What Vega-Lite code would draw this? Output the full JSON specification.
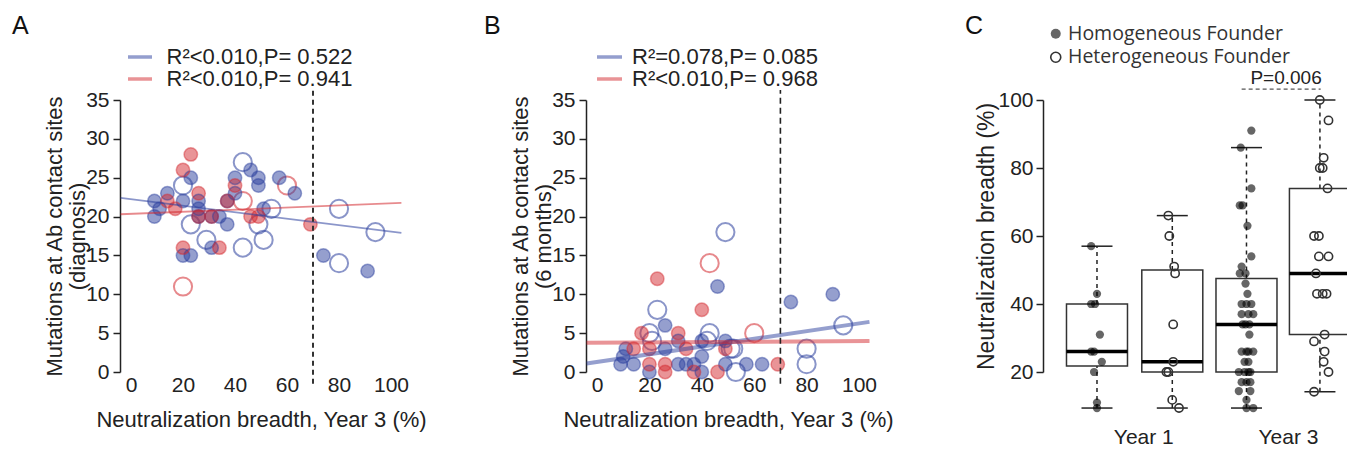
{
  "$schema": "https://vega.github.io/schema/vega-lite/v6.json",
  "background": "white",
  "padding": {"left": 12, "top": 14, "right": 0, "bottom": 0},
  "bounds": "flush",
  "spacing": 206,
  "config": {
    "font": "Liberation Sans",
    "view": {"stroke": null},
    "axis": {"grid": false, "labelOverlap": false, "labelBound": false, "labelColor": "#222", "titleColor": "#222", "domainColor": "#222", "tickColor": "#222", "titleFontWeight": "normal", "labelFontSize": 21, "titleFontSize": 22, "tickSize": 7, "tickWidth": 1.5, "domainWidth": 1.5, "labelFont": "Liberation Sans", "titleFont": "Liberation Sans"},
    "axisY": {"labelOverlap": false},
    "axisX": {"labelFlush": false},
    "axisQuantitative": {"labelOverlap": false},
    "title": {"fontWeight": "normal", "fontSize": 25, "color": "#111", "font": "Liberation Sans"}
  },
  "resolve": {
    "scale": {"color": "independent", "stroke": "independent", "fill": "independent", "x": "independent", "y": "independent"},
    "legend": {"color": "independent", "stroke": "independent", "fill": "independent"}
  },
  "datasets": {
    "ptsA": [
      {"grp": "blue", "kind": "filled", "x": 9, "y": 22}, {"grp": "blue", "kind": "filled", "x": 11, "y": 21}, {"grp": "blue", "kind": "filled", "x": 9, "y": 20},
      {"grp": "blue", "kind": "filled", "x": 14, "y": 23}, {"grp": "blue", "kind": "filled", "x": 20, "y": 22}, {"grp": "blue", "kind": "filled", "x": 23, "y": 25},
      {"grp": "blue", "kind": "filled", "x": 26, "y": 22}, {"grp": "blue", "kind": "filled", "x": 26, "y": 21}, {"grp": "blue", "kind": "filled", "x": 26, "y": 20},
      {"grp": "blue", "kind": "filled", "x": 20, "y": 15}, {"grp": "blue", "kind": "filled", "x": 23, "y": 15}, {"grp": "blue", "kind": "filled", "x": 31, "y": 16},
      {"grp": "blue", "kind": "filled", "x": 31, "y": 20}, {"grp": "blue", "kind": "filled", "x": 34, "y": 20}, {"grp": "blue", "kind": "filled", "x": 37, "y": 19},
      {"grp": "blue", "kind": "filled", "x": 37, "y": 22}, {"grp": "blue", "kind": "filled", "x": 40, "y": 25}, {"grp": "blue", "kind": "filled", "x": 40, "y": 23},
      {"grp": "blue", "kind": "filled", "x": 46, "y": 26}, {"grp": "blue", "kind": "filled", "x": 49, "y": 25}, {"grp": "blue", "kind": "filled", "x": 49, "y": 24},
      {"grp": "blue", "kind": "filled", "x": 51, "y": 21}, {"grp": "blue", "kind": "filled", "x": 57, "y": 25}, {"grp": "blue", "kind": "filled", "x": 63, "y": 23},
      {"grp": "blue", "kind": "filled", "x": 74, "y": 15}, {"grp": "blue", "kind": "filled", "x": 91, "y": 13},
      {"grp": "blue", "kind": "open", "x": 20, "y": 24}, {"grp": "blue", "kind": "open", "x": 43, "y": 27}, {"grp": "blue", "kind": "open", "x": 23, "y": 19},
      {"grp": "blue", "kind": "open", "x": 29, "y": 17}, {"grp": "blue", "kind": "open", "x": 43, "y": 16}, {"grp": "blue", "kind": "open", "x": 49, "y": 19},
      {"grp": "blue", "kind": "open", "x": 51, "y": 17}, {"grp": "blue", "kind": "open", "x": 54, "y": 21}, {"grp": "blue", "kind": "open", "x": 80, "y": 21},
      {"grp": "blue", "kind": "open", "x": 80, "y": 14}, {"grp": "blue", "kind": "open", "x": 94, "y": 18},
      {"grp": "red", "kind": "filled", "x": 23, "y": 28}, {"grp": "red", "kind": "filled", "x": 20, "y": 26}, {"grp": "red", "kind": "filled", "x": 14, "y": 22},
      {"grp": "red", "kind": "filled", "x": 17, "y": 21}, {"grp": "red", "kind": "filled", "x": 26, "y": 23}, {"grp": "red", "kind": "filled", "x": 26, "y": 20},
      {"grp": "red", "kind": "filled", "x": 31, "y": 20}, {"grp": "red", "kind": "filled", "x": 37, "y": 22}, {"grp": "red", "kind": "filled", "x": 40, "y": 24},
      {"grp": "red", "kind": "filled", "x": 46, "y": 20}, {"grp": "red", "kind": "filled", "x": 49, "y": 20}, {"grp": "red", "kind": "filled", "x": 20, "y": 16},
      {"grp": "red", "kind": "filled", "x": 34, "y": 16}, {"grp": "red", "kind": "filled", "x": 69, "y": 19},
      {"grp": "red", "kind": "open", "x": 20, "y": 11}, {"grp": "red", "kind": "open", "x": 43, "y": 22}, {"grp": "red", "kind": "open", "x": 60, "y": 24}
    ],
    "fitA": [
      {"grp": "blue", "x": -4, "y": 22.4}, {"grp": "blue", "x": 104, "y": 17.9},
      {"grp": "red", "x": -4, "y": 20.3}, {"grp": "red", "x": 104, "y": 21.75}
    ],
    "ptsB": [
      {"grp": "blue", "kind": "filled", "x": 46, "y": 11}, {"grp": "blue", "kind": "filled", "x": 74, "y": 9}, {"grp": "blue", "kind": "filled", "x": 90, "y": 10},
      {"grp": "blue", "kind": "filled", "x": 26, "y": 6}, {"grp": "blue", "kind": "filled", "x": 10, "y": 2}, {"grp": "blue", "kind": "filled", "x": 11, "y": 3},
      {"grp": "blue", "kind": "filled", "x": 9, "y": 1}, {"grp": "blue", "kind": "filled", "x": 14, "y": 1}, {"grp": "blue", "kind": "filled", "x": 20, "y": 0},
      {"grp": "blue", "kind": "filled", "x": 26, "y": 3}, {"grp": "blue", "kind": "filled", "x": 31, "y": 4}, {"grp": "blue", "kind": "filled", "x": 31, "y": 1},
      {"grp": "blue", "kind": "filled", "x": 34, "y": 1}, {"grp": "blue", "kind": "filled", "x": 37, "y": 1}, {"grp": "blue", "kind": "filled", "x": 40, "y": 0},
      {"grp": "blue", "kind": "filled", "x": 40, "y": 2}, {"grp": "blue", "kind": "filled", "x": 40, "y": 4}, {"grp": "blue", "kind": "filled", "x": 49, "y": 4},
      {"grp": "blue", "kind": "filled", "x": 49, "y": 1}, {"grp": "blue", "kind": "filled", "x": 57, "y": 1}, {"grp": "blue", "kind": "filled", "x": 63, "y": 1},
      {"grp": "blue", "kind": "open", "x": 49, "y": 18}, {"grp": "blue", "kind": "open", "x": 23, "y": 8}, {"grp": "blue", "kind": "open", "x": 20, "y": 5},
      {"grp": "blue", "kind": "open", "x": 21, "y": 4}, {"grp": "blue", "kind": "open", "x": 43, "y": 5}, {"grp": "blue", "kind": "open", "x": 42, "y": 4},
      {"grp": "blue", "kind": "open", "x": 51, "y": 3}, {"grp": "blue", "kind": "open", "x": 52, "y": 3}, {"grp": "blue", "kind": "open", "x": 53, "y": 0},
      {"grp": "blue", "kind": "open", "x": 80, "y": 3}, {"grp": "blue", "kind": "open", "x": 80, "y": 1}, {"grp": "blue", "kind": "open", "x": 94, "y": 6},
      {"grp": "red", "kind": "filled", "x": 23, "y": 12}, {"grp": "red", "kind": "filled", "x": 40, "y": 8}, {"grp": "red", "kind": "filled", "x": 17, "y": 5},
      {"grp": "red", "kind": "filled", "x": 31, "y": 5}, {"grp": "red", "kind": "filled", "x": 14, "y": 3}, {"grp": "red", "kind": "filled", "x": 20, "y": 3},
      {"grp": "red", "kind": "filled", "x": 34, "y": 3}, {"grp": "red", "kind": "filled", "x": 49, "y": 3}, {"grp": "red", "kind": "filled", "x": 20, "y": 1},
      {"grp": "red", "kind": "filled", "x": 26, "y": 1}, {"grp": "red", "kind": "filled", "x": 26, "y": 0}, {"grp": "red", "kind": "filled", "x": 37, "y": 0},
      {"grp": "red", "kind": "filled", "x": 46, "y": 0}, {"grp": "red", "kind": "filled", "x": 69, "y": 1},
      {"grp": "red", "kind": "open", "x": 43, "y": 14}, {"grp": "red", "kind": "open", "x": 60, "y": 5}
    ],
    "fitB": [
      {"grp": "blue", "x": -4, "y": 1.1}, {"grp": "blue", "x": 104, "y": 6.45},
      {"grp": "red", "x": -4, "y": 3.75}, {"grp": "red", "x": 104, "y": 4.0}
    ],
    "cut": [{"x": 70, "y": -1.5, "y2": 36.3}],
    "boxes": [
      {"g": 1, "xpos": 1.0, "min": 9.4, "q1": 21.8, "med": 26, "q3": 40, "max": 57},
      {"g": 2, "xpos": 2.01, "min": 9.4, "q1": 20, "med": 23, "q3": 50, "max": 66},
      {"g": 3, "xpos": 3.005, "min": 9.4, "q1": 20, "med": 34, "q3": 47.5, "max": 86},
      {"g": 4, "xpos": 3.99, "min": 14.2, "q1": 31, "med": 49, "q3": 74, "max": 100}
    ],
    "ptsC": [
      {"founder": "Homogeneous Founder", "xpos": 0.922, "val": 57}, {"founder": "Homogeneous Founder", "xpos": 1.0, "val": 43},
      {"founder": "Homogeneous Founder", "xpos": 0.922, "val": 40}, {"founder": "Homogeneous Founder", "xpos": 0.974, "val": 40},
      {"founder": "Homogeneous Founder", "xpos": 1.039, "val": 31}, {"founder": "Homogeneous Founder", "xpos": 0.922, "val": 26},
      {"founder": "Homogeneous Founder", "xpos": 0.961, "val": 26}, {"founder": "Homogeneous Founder", "xpos": 1.065, "val": 23},
      {"founder": "Homogeneous Founder", "xpos": 0.961, "val": 20}, {"founder": "Homogeneous Founder", "xpos": 1.0, "val": 11},
      {"founder": "Homogeneous Founder", "xpos": 1.0, "val": 9.4},
      {"founder": "Heterogeneous Founder", "xpos": 1.957, "val": 66}, {"founder": "Heterogeneous Founder", "xpos": 1.97, "val": 60},
      {"founder": "Heterogeneous Founder", "xpos": 2.035, "val": 51}, {"founder": "Heterogeneous Founder", "xpos": 2.048, "val": 49},
      {"founder": "Heterogeneous Founder", "xpos": 2.022, "val": 34}, {"founder": "Heterogeneous Founder", "xpos": 2.022, "val": 23},
      {"founder": "Heterogeneous Founder", "xpos": 1.931, "val": 20}, {"founder": "Heterogeneous Founder", "xpos": 1.957, "val": 20},
      {"founder": "Heterogeneous Founder", "xpos": 2.009, "val": 11.8}, {"founder": "Heterogeneous Founder", "xpos": 2.1, "val": 9.4},
      {"founder": "Homogeneous Founder", "xpos": 3.07, "val": 91}, {"founder": "Homogeneous Founder", "xpos": 2.928, "val": 86},
      {"founder": "Homogeneous Founder", "xpos": 3.07, "val": 74}, {"founder": "Homogeneous Founder", "xpos": 2.915, "val": 69},
      {"founder": "Homogeneous Founder", "xpos": 2.953, "val": 69}, {"founder": "Homogeneous Founder", "xpos": 3.018, "val": 63},
      {"founder": "Homogeneous Founder", "xpos": 3.07, "val": 54}, {"founder": "Homogeneous Founder", "xpos": 2.94, "val": 51},
      {"founder": "Homogeneous Founder", "xpos": 2.915, "val": 49}, {"founder": "Homogeneous Founder", "xpos": 2.992, "val": 49},
      {"founder": "Homogeneous Founder", "xpos": 2.992, "val": 46}, {"founder": "Homogeneous Founder", "xpos": 3.018, "val": 43},
      {"founder": "Homogeneous Founder", "xpos": 2.94, "val": 40}, {"founder": "Homogeneous Founder", "xpos": 3.07, "val": 40},
      {"founder": "Homogeneous Founder", "xpos": 3.005, "val": 40}, {"founder": "Homogeneous Founder", "xpos": 2.94, "val": 37},
      {"founder": "Homogeneous Founder", "xpos": 3.031, "val": 37}, {"founder": "Homogeneous Founder", "xpos": 3.096, "val": 37},
      {"founder": "Homogeneous Founder", "xpos": 2.953, "val": 34}, {"founder": "Homogeneous Founder", "xpos": 3.044, "val": 34},
      {"founder": "Homogeneous Founder", "xpos": 2.992, "val": 34}, {"founder": "Homogeneous Founder", "xpos": 3.044, "val": 31},
      {"founder": "Homogeneous Founder", "xpos": 2.94, "val": 26}, {"founder": "Homogeneous Founder", "xpos": 3.005, "val": 26},
      {"founder": "Homogeneous Founder", "xpos": 3.096, "val": 26}, {"founder": "Homogeneous Founder", "xpos": 3.031, "val": 26},
      {"founder": "Homogeneous Founder", "xpos": 2.979, "val": 23}, {"founder": "Homogeneous Founder", "xpos": 3.031, "val": 23},
      {"founder": "Homogeneous Founder", "xpos": 2.902, "val": 20}, {"founder": "Homogeneous Founder", "xpos": 3.057, "val": 20},
      {"founder": "Homogeneous Founder", "xpos": 2.979, "val": 20}, {"founder": "Homogeneous Founder", "xpos": 3.031, "val": 20},
      {"founder": "Homogeneous Founder", "xpos": 2.94, "val": 17}, {"founder": "Homogeneous Founder", "xpos": 3.057, "val": 17},
      {"founder": "Homogeneous Founder", "xpos": 3.005, "val": 17}, {"founder": "Homogeneous Founder", "xpos": 2.902, "val": 14.4},
      {"founder": "Homogeneous Founder", "xpos": 3.057, "val": 14.4}, {"founder": "Homogeneous Founder", "xpos": 3.005, "val": 11.8},
      {"founder": "Homogeneous Founder", "xpos": 3.005, "val": 9.4}, {"founder": "Homogeneous Founder", "xpos": 3.096, "val": 9.4},
      {"founder": "Heterogeneous Founder", "xpos": 3.988, "val": 100}, {"founder": "Heterogeneous Founder", "xpos": 4.105, "val": 94},
      {"founder": "Heterogeneous Founder", "xpos": 4.04, "val": 83}, {"founder": "Heterogeneous Founder", "xpos": 3.988, "val": 80},
      {"founder": "Heterogeneous Founder", "xpos": 4.027, "val": 80}, {"founder": "Heterogeneous Founder", "xpos": 4.092, "val": 74},
      {"founder": "Heterogeneous Founder", "xpos": 3.911, "val": 60}, {"founder": "Heterogeneous Founder", "xpos": 3.976, "val": 60},
      {"founder": "Heterogeneous Founder", "xpos": 3.976, "val": 54}, {"founder": "Heterogeneous Founder", "xpos": 4.105, "val": 54},
      {"founder": "Heterogeneous Founder", "xpos": 3.937, "val": 49}, {"founder": "Heterogeneous Founder", "xpos": 3.95, "val": 43},
      {"founder": "Heterogeneous Founder", "xpos": 4.027, "val": 43}, {"founder": "Heterogeneous Founder", "xpos": 4.079, "val": 43},
      {"founder": "Heterogeneous Founder", "xpos": 4.053, "val": 31}, {"founder": "Heterogeneous Founder", "xpos": 3.911, "val": 29},
      {"founder": "Heterogeneous Founder", "xpos": 4.053, "val": 26}, {"founder": "Heterogeneous Founder", "xpos": 4.04, "val": 23},
      {"founder": "Heterogeneous Founder", "xpos": 4.105, "val": 20}, {"founder": "Heterogeneous Founder", "xpos": 3.911, "val": 14.2}
    ],
    "pval": [{"x1": 2.94, "x2": 4.0, "y": 103.2, "xt": 3.536, "yt": 106.6, "label": "P=0.006"}]
  },
  "hconcat": [
    {
      "width": 260, "height": 272,
      "title": {"text": "A", "anchor": "start", "frame": "group", "dx": -119, "offset": -13, "baseline": "alphabetic"},
      "layer": [
        {
          "data": {"name": "ptsA"},
          "transform": [{"filter": "datum.kind == 'open'"}],
          "mark": {"type": "point", "shape": "circle", "filled": false, "size": 330, "strokeWidth": 2, "opacity": 0.55},
          "encoding": {
            "x": {"field": "x", "type": "quantitative", "scale": {"domain": [0, 100], "nice": false, "zero": false},
                  "axis": {"values": [0, 20, 40, 60, 80, 100], "domain": false, "ticks": false, "tickSize": 0, "labelPadding": 2.5, "labelOverlap": false, "labelFlush": false, "title": "Neutralization breadth, Year 3 (%)", "titlePadding": 13.5}},
            "y": {"field": "y", "type": "quantitative", "scale": {"domain": [0, 35], "nice": false, "zero": false},
                  "axis": {"values": [0, 5, 10, 15, 20, 25, 30, 35], "tickCount": 8, "offset": 11, "labelPadding": 4, "labelOverlap": false, "title": ["Mutations at Ab contact sites", "(diagnosis)"], "titlePadding": -4, "titleLineHeight": 23}},
            "color": {"field": "grp", "type": "nominal", "scale": {"domain": ["blue", "red"], "range": ["#2b3f9e", "#d42a30"]},
                      "legend": {"orient": "none", "legendX": -2, "legendY": -54, "title": null, "symbolType": "M-2,0H2", "symbolSize": 144, "symbolStrokeWidth": 3.5, "symbolOpacity": 0.5,
                                 "labelFontSize": 22, "labelColor": "#222", "labelOffset": 15.5, "rowPadding": -1, "padding": 0, "labelLimit": 400,
                                 "labelExpr": "datum.label == 'blue' ? 'R²<0.010,P= 0.522' : 'R²<0.010,P= 0.941'"}}
          }
        },
        {
          "data": {"name": "ptsA"},
          "transform": [{"filter": "datum.kind == 'filled'"}],
          "mark": {"type": "circle", "size": 180, "opacity": 0.5},
          "encoding": {
            "x": {"field": "x", "type": "quantitative"},
            "y": {"field": "y", "type": "quantitative"},
            "color": {"field": "grp", "type": "nominal"}
          }
        },
        {
          "data": {"name": "ptsA"},
          "transform": [{"filter": "datum.kind == 'filled'"}],
          "mark": {"type": "point", "shape": "circle", "filled": false, "size": 180, "strokeWidth": 1.5, "opacity": 0.45},
          "encoding": {
            "x": {"field": "x", "type": "quantitative"},
            "y": {"field": "y", "type": "quantitative"},
            "color": {"field": "grp", "type": "nominal"}
          }
        },
        {
          "data": {"name": "fitA"},
          "mark": {"type": "line", "strokeWidth": 1.8, "opacity": 0.55},
          "encoding": {
            "x": {"field": "x", "type": "quantitative"},
            "y": {"field": "y", "type": "quantitative"},
            "color": {"field": "grp", "type": "nominal"}
          }
        },
        {
          "data": {"name": "cut"},
          "mark": {"type": "rule", "strokeDash": [5, 4], "strokeWidth": 2, "color": "#333"},
          "encoding": {
            "x": {"field": "x", "type": "quantitative"},
            "y": {"field": "y", "type": "quantitative"},
            "y2": {"field": "y2"}
          }
        }
      ]
    },
    {
      "width": 262, "height": 272,
      "title": {"text": "B", "anchor": "start", "frame": "group", "dx": -113, "offset": -13, "baseline": "alphabetic"},
      "layer": [
        {
          "data": {"name": "ptsB"},
          "transform": [{"filter": "datum.kind == 'open'"}],
          "mark": {"type": "point", "shape": "circle", "filled": false, "size": 330, "strokeWidth": 2, "opacity": 0.55},
          "encoding": {
            "x": {"field": "x", "type": "quantitative", "scale": {"domain": [0, 100], "nice": false, "zero": false},
                  "axis": {"values": [0, 20, 40, 60, 80, 100], "domain": false, "ticks": false, "tickSize": 0, "labelPadding": 2.5, "labelOverlap": false, "labelFlush": false, "title": "Neutralization breadth, Year 3 (%)", "titlePadding": 13.5}},
            "y": {"field": "y", "type": "quantitative", "scale": {"domain": [0, 35], "nice": false, "zero": false},
                  "axis": {"values": [0, 5, 10, 15, 20, 25, 30, 35], "tickCount": 8, "offset": 11, "labelPadding": 4, "labelOverlap": false, "title": ["Mutations at Ab contact sites", "(6 months)"], "titlePadding": -4, "titleLineHeight": 23}},
            "color": {"field": "grp", "type": "nominal", "scale": {"domain": ["blue", "red"], "range": ["#2b3f9e", "#d42a30"]},
                      "legend": {"orient": "none", "legendX": 1.5, "legendY": -54, "title": null, "symbolType": "M-2,0H2", "symbolSize": 156, "symbolStrokeWidth": 3.5, "symbolOpacity": 0.5,
                                 "labelFontSize": 22, "labelColor": "#222", "labelOffset": 11.5, "rowPadding": -1, "padding": 0, "labelLimit": 400,
                                 "labelExpr": "datum.label == 'blue' ? 'R²=0.078,P= 0.085' : 'R²<0.010,P= 0.968'"}}
          }
        },
        {
          "data": {"name": "ptsB"},
          "transform": [{"filter": "datum.kind == 'filled'"}],
          "mark": {"type": "circle", "size": 180, "opacity": 0.5},
          "encoding": {
            "x": {"field": "x", "type": "quantitative"},
            "y": {"field": "y", "type": "quantitative"},
            "color": {"field": "grp", "type": "nominal"}
          }
        },
        {
          "data": {"name": "ptsB"},
          "transform": [{"filter": "datum.kind == 'filled'"}],
          "mark": {"type": "point", "shape": "circle", "filled": false, "size": 180, "strokeWidth": 1.5, "opacity": 0.45},
          "encoding": {
            "x": {"field": "x", "type": "quantitative"},
            "y": {"field": "y", "type": "quantitative"},
            "color": {"field": "grp", "type": "nominal"}
          }
        },
        {
          "data": {"name": "fitB"},
          "mark": {"type": "line", "strokeWidth": 4, "opacity": 0.5},
          "encoding": {
            "x": {"field": "x", "type": "quantitative"},
            "y": {"field": "y", "type": "quantitative"},
            "color": {"field": "grp", "type": "nominal"}
          }
        },
        {
          "data": {"name": "cut"},
          "mark": {"type": "rule", "strokeDash": [6, 4], "strokeWidth": 1.6, "color": "#222"},
          "encoding": {
            "x": {"field": "x", "type": "quantitative"},
            "y": {"field": "y", "type": "quantitative"},
            "y2": {"field": "y2"}
          }
        }
      ]
    },
    {
      "width": 282, "height": 272,
      "title": {"text": "C", "anchor": "start", "frame": "group", "dx": -100, "offset": -35, "baseline": "alphabetic"},
      "layer": [
        {
          "data": {"name": "boxes"},
          "mark": {"type": "rule", "strokeDash": [4, 4], "strokeWidth": 1.5, "color": "#222"},
          "encoding": {
            "x": {"field": "xpos", "type": "quantitative", "scale": {"domain": [0.638, 4.286], "nice": false, "zero": false},
                  "axis": {"values": [1.621, 3.561], "labelExpr": "datum.value < 2.5 ? 'Year 1' : 'Year 3'", "domain": false, "ticks": false, "tickSize": 0, "labelPadding": 54, "labelFlush": false, "title": null}},
            "y": {"field": "q3", "type": "quantitative", "scale": {"domain": [20, 100], "nice": false, "zero": false},
                  "axis": {"values": [20, 40, 60, 80, 100], "offset": 22, "labelPadding": 3, "labelOverlap": false, "title": "Neutralization breadth (%)", "titleFontSize": 23, "titlePadding": -1}},
            "y2": {"field": "max"}
          }
        },
        {
          "data": {"name": "boxes"},
          "mark": {"type": "rule", "strokeDash": [4, 4], "strokeWidth": 1.5, "color": "#222"},
          "encoding": {
            "x": {"field": "xpos", "type": "quantitative"},
            "y": {"field": "min", "type": "quantitative"},
            "y2": {"field": "q1"}
          }
        },
        {
          "data": {"name": "boxes"},
          "transform": [{"filter": "datum.g < 4"}],
          "mark": {"type": "bar", "size": 61, "fill": "white", "fillOpacity": 0, "stroke": "#333", "strokeWidth": 1.5, "opacity": 1},
          "encoding": {
            "x": {"field": "xpos", "type": "quantitative"},
            "y": {"field": "q1", "type": "quantitative"},
            "y2": {"field": "q3"}
          }
        },
        {
          "data": {"name": "boxes"},
          "transform": [{"filter": "datum.g == 4"}],
          "mark": {"type": "bar", "size": 61, "fill": "white", "fillOpacity": 0, "stroke": "#333", "strokeWidth": 1.5, "opacity": 1, "clip": true},
          "encoding": {
            "x": {"field": "xpos", "type": "quantitative"},
            "y": {"field": "q1", "type": "quantitative"},
            "y2": {"field": "q3"}
          }
        },
        {
          "data": {"name": "boxes"},
          "mark": {"type": "tick", "orient": "horizontal", "size": 61, "thickness": 3.5, "color": "#000", "opacity": 1, "clip": true},
          "encoding": {
            "x": {"field": "xpos", "type": "quantitative"},
            "y": {"field": "med", "type": "quantitative"}
          }
        },
        {
          "data": {"name": "boxes"},
          "mark": {"type": "tick", "orient": "horizontal", "size": 31, "thickness": 1.5, "color": "#222", "opacity": 1},
          "encoding": {
            "x": {"field": "xpos", "type": "quantitative"},
            "y": {"field": "max", "type": "quantitative"}
          }
        },
        {
          "data": {"name": "boxes"},
          "mark": {"type": "tick", "orient": "horizontal", "size": 31, "thickness": 1.5, "color": "#222", "opacity": 1},
          "encoding": {
            "x": {"field": "xpos", "type": "quantitative"},
            "y": {"field": "min", "type": "quantitative"}
          }
        },
        {
          "data": {"name": "ptsC"},
          "mark": {"type": "point", "shape": "circle", "size": 68, "strokeWidth": 1.6, "opacity": 1},
          "encoding": {
            "x": {"field": "xpos", "type": "quantitative"},
            "y": {"field": "val", "type": "quantitative"},
            "fill": {"field": "founder", "type": "nominal",
                     "scale": {"domain": ["Homogeneous Founder", "Heterogeneous Founder"], "range": ["rgba(0,0,0,0.6)", "rgba(0,0,0,0)"]},
                     "legend": {"orient": "none", "legendX": -19, "legendY": -76, "title": null, "symbolType": "circle", "symbolSize": 100, "symbolStrokeWidth": 1.6,
                                "labelFont": "Open Sans", "labelFontSize": 19.5, "labelColor": "#333", "labelOffset": 2.5, "rowPadding": 2.5, "padding": 0, "labelLimit": 400}},
            "stroke": {"field": "founder", "type": "nominal",
                       "scale": {"domain": ["Homogeneous Founder", "Heterogeneous Founder"], "range": ["rgba(0,0,0,0)", "#333"]},
                       "legend": {"orient": "none", "legendX": -19, "legendY": -76, "title": null, "symbolType": "circle", "symbolSize": 100, "symbolStrokeWidth": 1.6,
                                  "labelFont": "Open Sans", "labelFontSize": 19.5, "labelColor": "#333", "labelOffset": 2.5, "rowPadding": 2.5, "padding": 0, "labelLimit": 400}}
          }
        },
        {
          "data": {"name": "pval"},
          "mark": {"type": "rule", "strokeDash": [4, 3], "strokeWidth": 1.2, "color": "#555"},
          "encoding": {
            "x": {"field": "x1", "type": "quantitative"},
            "x2": {"field": "x2"},
            "y": {"field": "y", "type": "quantitative"}
          }
        },
        {
          "data": {"name": "pval"},
          "mark": {"type": "text", "fontSize": 19, "baseline": "middle", "align": "center", "color": "#222"},
          "encoding": {
            "x": {"field": "xt", "type": "quantitative"},
            "y": {"field": "yt", "type": "quantitative"},
            "text": {"field": "label"}
          }
        }
      ]
    }
  ]
}
